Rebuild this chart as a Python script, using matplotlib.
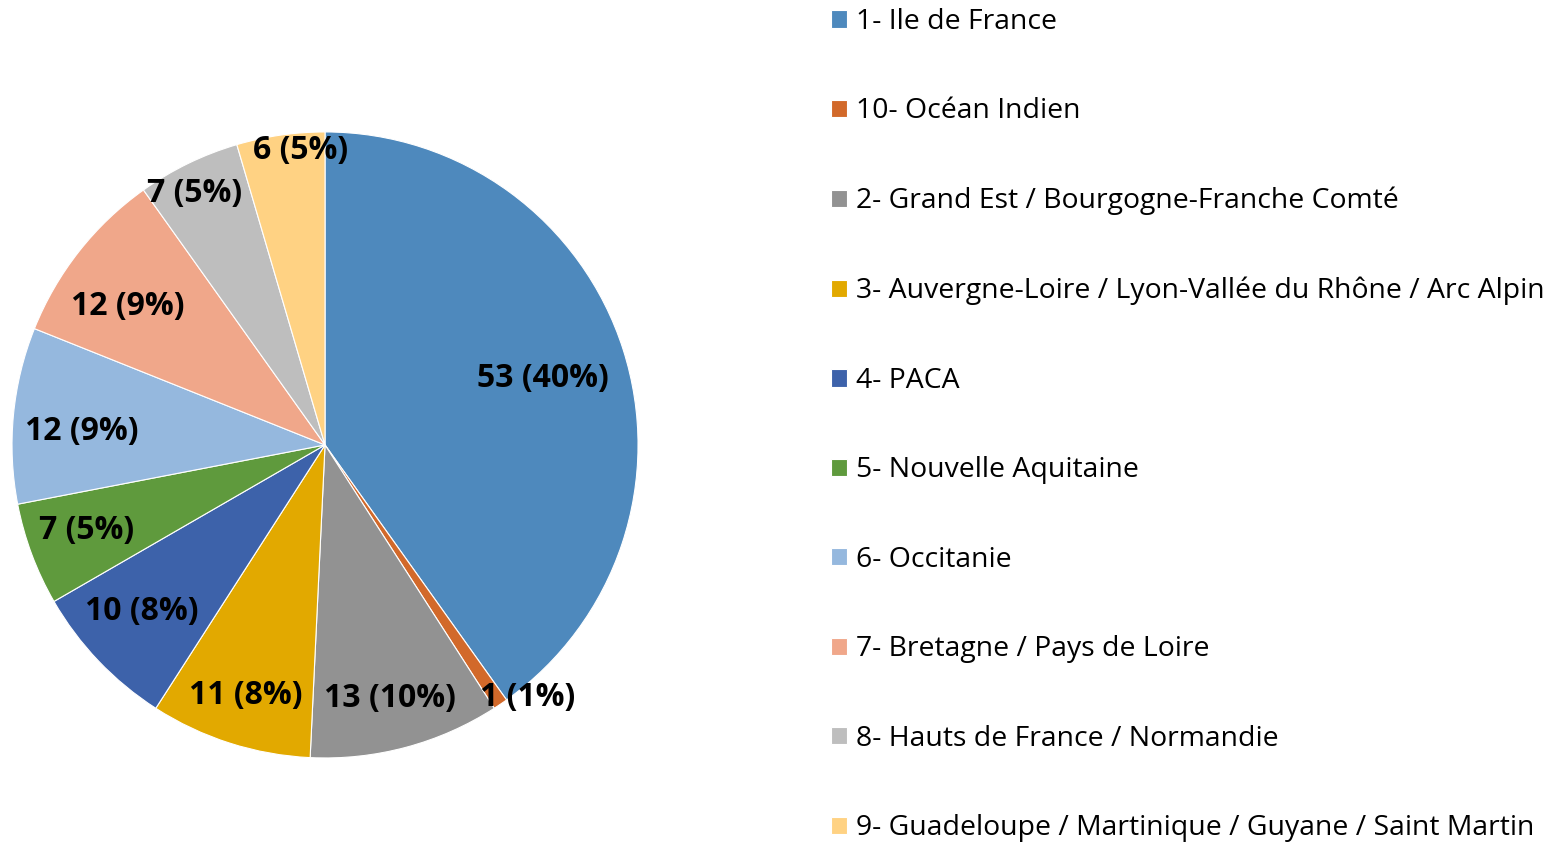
import matplotlib.pyplot as plt
import numpy as np

regions = ["1- Ile de France", "10- Océan Indien",
           "2- Grand Est / Bourgogne-Franche Comté",
           "3- Auvergne-Loire / Lyon-Vallée du Rhône / Arc Alpin",
           "4- PACA", "5- Nouvelle Aquitaine", "6- Occitanie",
           "7- Bretagne / Pays de Loire", "8- Hauts de France / Normandie",
           "9- Guadeloupe / Martinique / Guyane / Saint Martin"]
counts = [53, 1, 13, 11, 10, 7, 12, 12, 7, 6]
pcts = [40, 1, 10, 8, 8, 5, 9, 9, 5, 5]

colors = ["#4E89BD", "#D2692A", "#929292", "#E2A900", "#3D62AA",
          "#5F9A3D", "#95B8DE", "#F0A78A", "#BEBEBE", "#FFD283"]
# label placement: radius fraction and angle shift (deg) from wedge middle
label_r = [0.730, 1.029, 0.831, 0.835, 0.787, 0.809, 0.778, 0.774, 0.909, 0.952]
label_dang = [-0.4, 5.0, -0.5, 0, -1.6, -1.1, 1.7, 2.6, 1.3, -3.4]

plt.rcParams['font.family'] = ['Open Sans', 'DejaVu Sans']

fig = plt.figure(figsize=(15.6, 8.42), dpi=100)
ax = fig.add_axes([0.0077, 0.0998, 0.4013, 0.7435])

wedges, _ = ax.pie(counts, colors=colors, startangle=90, counterclock=False,
                   radius=1.0, wedgeprops=dict(edgecolor="white", linewidth=0.8))
ax.set_xlim(-1, 1)
ax.set_ylim(-1, 1)
ax.set_aspect("equal")

total = sum(counts)
cum = np.cumsum([0] + counts[:-1])
for c, p, s, r, da in zip(counts, pcts, cum, label_r, label_dang):
    ang = np.deg2rad(90 - (s + c / 2) / total * 360 + da)
    ax.annotate(f"{c} ({p}%)", (r * np.cos(ang), r * np.sin(ang)),
                xytext=(0, -1.5), textcoords="offset points", ha="center",
                va="center", fontsize=23, fontweight="bold", color="black")

fig.legend(wedges, regions, loc="upper left", bbox_to_anchor=(0.5254, 1.0041),
           frameon=False, fontsize=20.4, handlelength=0.57, handleheight=0.57,
           handletextpad=0.32, labelspacing=2.17, borderaxespad=0)

fig.savefig("out.png", dpi=100)
